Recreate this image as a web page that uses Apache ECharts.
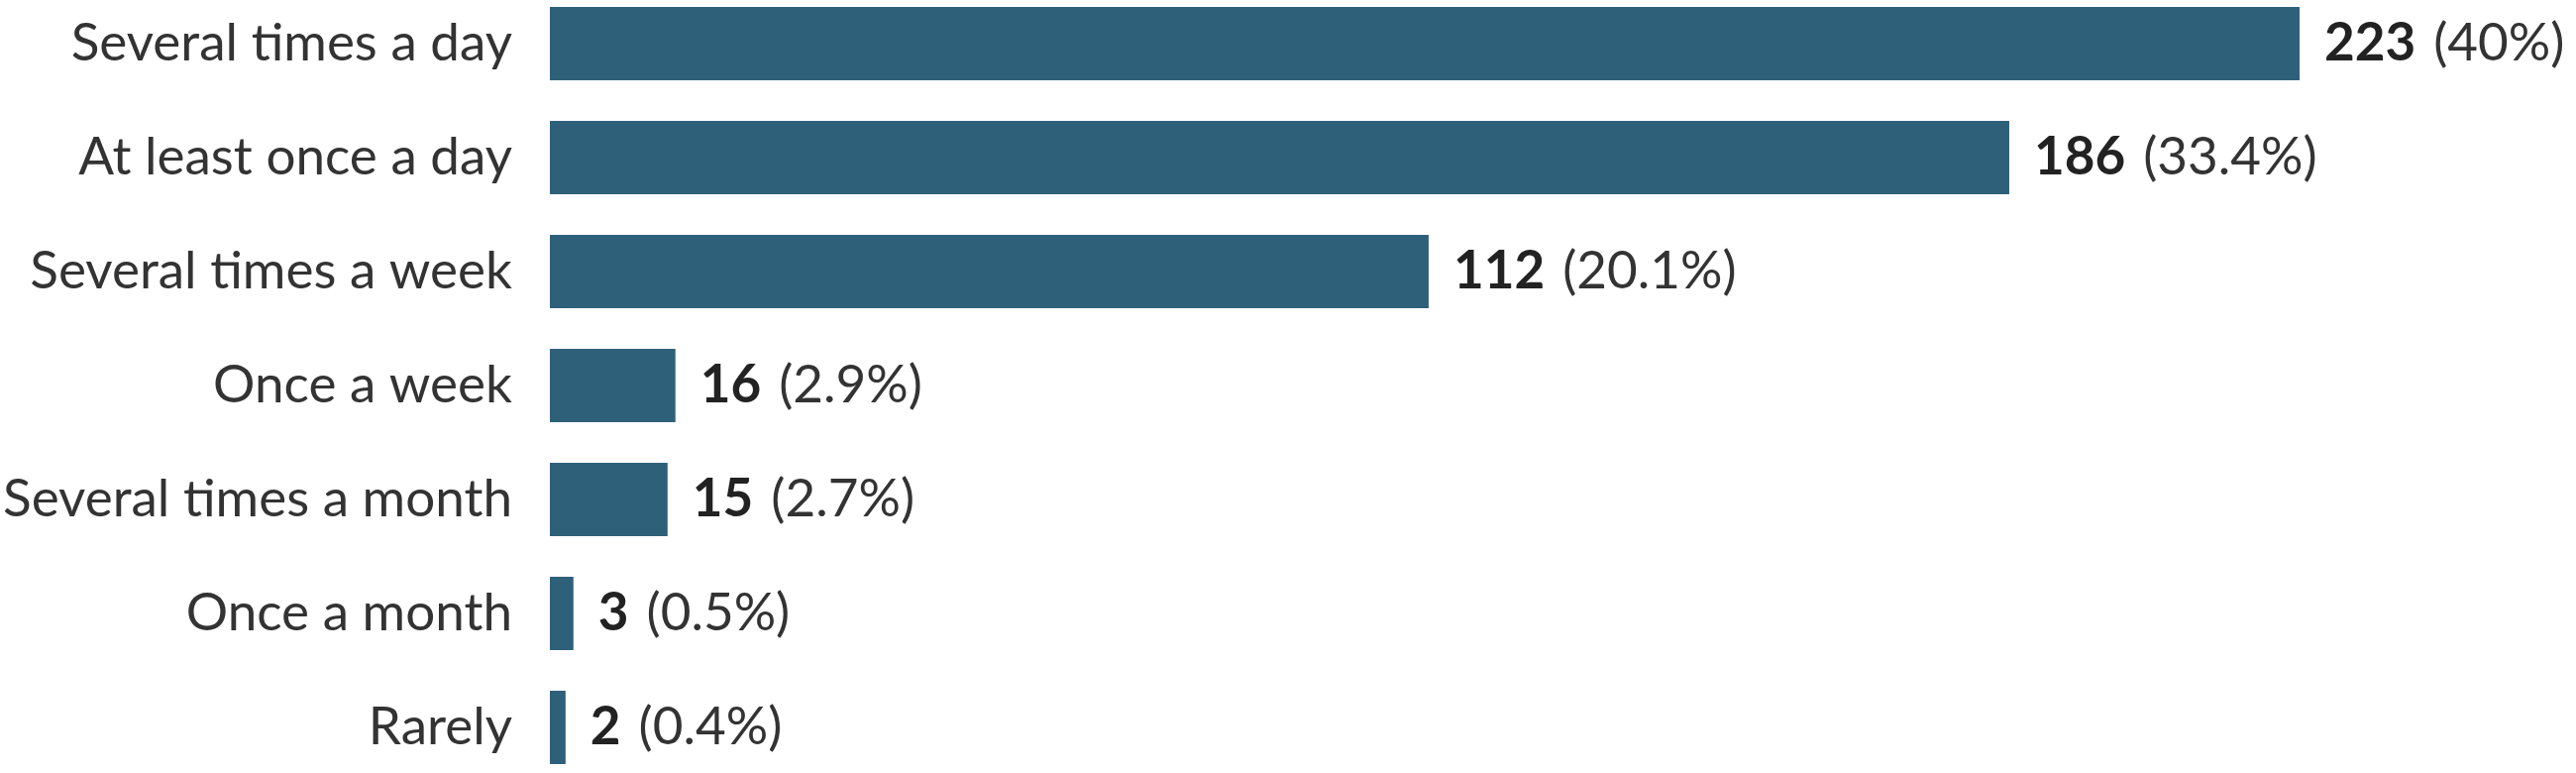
<!DOCTYPE html>
<html>
<head>
<meta charset="utf-8">
<script src="https://cdn.jsdelivr.net/npm/echarts@6/dist/echarts.min.js"></script>
<style>html,body{margin:0;padding:0;background:#fff}#c{width:2600px;height:780px}</style>
</head>
<body>
<div id="c"></div>
<script>
const categories = ["Several times a day","At least once a day","Several times a week","Once a week","Several times a month","Once a month","Rarely"];
const counts = [223,186,112,16,15,3,2];
const percents = ["40%","33.4%","20.1%","2.9%","2.7%","0.5%","0.4%"];

const chart = echarts.init(document.getElementById('c'), null, {renderer:'canvas'});
chart.setOption({
  backgroundColor:'#ffffff',
  animation:false,
  grid:{left:555, right:279, top:44, bottom:46, containLabel:false},
  xAxis:{type:'value', min:0, max:223, show:false},
  yAxis:{type:'category', data:categories, inverse:true, boundaryGap:false,
    axisLine:{show:false}, axisTick:{show:false}, splitLine:{show:false},
    axisLabel:{margin:38, fontFamily:'Lato', fontSize:53, color:'#333333'}},
  series:[{
    type:'bar',
    data:counts,
    barWidth:74,
    itemStyle:{color:'#2e6079'},
    label:{show:true, position:'right', distance:25,
      formatter:(p)=>'{b|'+p.value+'}{n|('+percents[p.dataIndex]+')}',
      rich:{
        b:{fontFamily:'Lato', fontWeight:'bold', fontSize:53, color:'#222222', padding:[0,18,0,0]},
        n:{fontFamily:'Lato', fontSize:53, color:'#333333'}
      }}
  }]
});
</script>
</body>
</html>
